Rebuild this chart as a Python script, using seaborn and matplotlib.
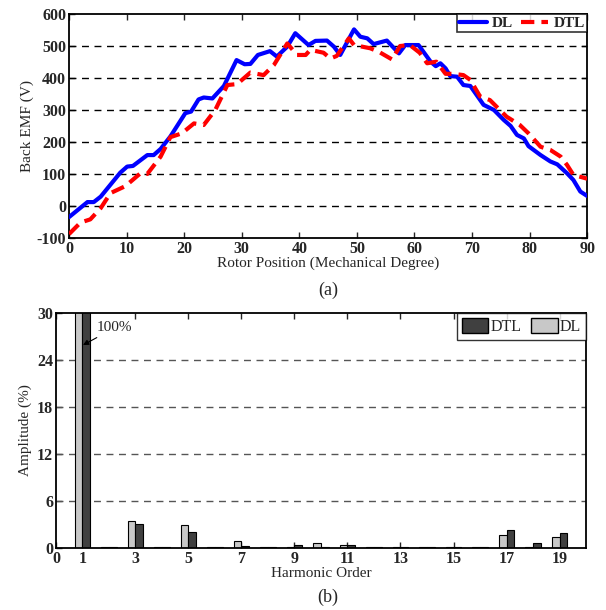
import numpy as np
import pandas as pd
import matplotlib
matplotlib.use("Agg")
import matplotlib.pyplot as plt
import seaborn as sns
from matplotlib.patches import Patch
from matplotlib.lines import Line2D

# ---------------- data ----------------
dl_deg = [0, 3.2, 4.3, 5.5, 8.9, 10.1, 11.1, 13.6, 14.7, 15.9,
          17.6, 20.2, 21.2, 22.5, 23.4, 24.9, 26.9, 29.1, 30.5, 31.5,
          32.8, 34.9, 36.1, 37.9, 39.3, 41.6, 42.8, 44.8, 46.0, 47.1,
          49.5, 50.6, 51.8, 52.9, 55.2, 57.3, 58.4, 60.7, 62.8, 63.7,
          64.5, 65.4, 66.2, 67.4, 68.5, 69.7, 72.0, 73.8, 75.5, 76.7,
          77.8, 79.0, 79.8, 81.9, 83.6, 84.8, 86.5, 87.6, 88.8, 90]
dl_emf = [-35, 12, 12, 29, 104, 123, 125, 159, 159, 178,
          217, 290, 295, 333, 339, 336, 375, 456, 443, 444,
          472, 484, 467, 498, 540, 503, 516, 517, 498, 472,
          552, 529, 524, 506, 517, 477, 503, 503, 451, 437,
          446, 430, 406, 404, 378, 375, 316, 300, 269, 250,
          222, 211, 187, 159, 139, 130, 102, 81, 45, 31]

dtl_deg = [0, 2.0, 3.7, 5.5, 7.2, 9.8, 12.4, 13.6, 15.9, 17.6,
           19.6, 21.7, 23.4, 25.4, 27.5, 29.2, 31.5, 33.8, 35.6, 37.9,
           39.6, 41.1, 41.9, 44.2, 45.4, 46.5, 48.6, 49.5, 52.3, 53.8,
           56.1, 57.5, 59.2, 60.9, 62.2, 63.8, 65.4, 66.8, 68.5, 69.7,
           71.4, 73.1, 76.0, 78.3, 79.8, 81.9, 83.6, 85.4, 86.5, 87.6, 90]
dtl_emf = [-88, -52, -42, -7, 40, 62, 102, 100, 154, 215,
           227, 258, 253, 300, 378, 381, 417, 409, 441, 508,
           472, 472, 488, 479, 461, 469, 524, 503, 493, 482,
           458, 500, 503, 479, 446, 451, 413, 413, 409, 394,
           342, 331, 279, 253, 227, 185, 175, 154, 128, 97, 85]

harmonics = list(range(1, 20))
dl_amp = [100, 0.07, 3.45, 0.07, 3.0, 0.07, 0.9, 0.07, 0.07, 0.6,
          0.4, 0.07, 0.07, 0.07, 0.07, 0.07, 1.66, 0.07, 1.45]
dtl_amp = [100, 0.17, 3.1, 0.15, 2.05, 0.15, 0.3, 0.12, 0.4, 0.15,
           0.35, 0.12, 0.15, 0.12, 0.15, 0.12, 2.3, 0.68, 1.95]

top_xticks = list(range(0, 91, 10))
top_yticks = list(range(-100, 601, 100))
bot_yticks = [0, 6, 12, 18, 24, 30]
bot_xticks = [0, 1, 3, 5, 7, 9, 11, 13, 15, 17, 19]

# ---------------- style ----------------
sns.set_style("ticks")
plt.rcParams["font.family"] = ["Liberation Serif", "DejaVu Serif"]
plt.rcParams["xtick.direction"] = "in"
plt.rcParams["ytick.direction"] = "in"
plt.rcParams["axes.linewidth"] = 1.3
plt.rcParams["axes.unicode_minus"] = False

fig = plt.figure(figsize=(6.06, 6.10), dpi=100)
ax1 = fig.add_axes([0.1139, 0.610, 0.969 - 0.1139, 0.977 - 0.610])
ax2 = fig.add_axes([0.0924, 0.1016, 0.967 - 0.0924, 0.487 - 0.1016])

tick_fs = 11.5
lab_fs = 11

# ---------------- top panel ----------------
for yv in top_yticks[1:-1]:
    ax1.axhline(yv, color="black", lw=1.0, ls=(0, (5, 4)), zorder=1)

sns.lineplot(x=dl_deg, y=dl_emf, ax=ax1, color="#0000ff", lw=3.0,
             sort=False, estimator=None, zorder=3)
sns.lineplot(x=dtl_deg, y=dtl_emf, ax=ax1, color="#ff0000", lw=3.0,
             sort=False, estimator=None, zorder=3)
ax1.lines[-1].set_dashes([3.2, 1.7])

ax1.set_xlim(0, 90)
ax1.set_ylim(-100, 600)
ax1.set_xticks(top_xticks)
ax1.set_yticks(top_yticks)
ax1.tick_params(top=True, right=True, length=4, width=1, labelsize=tick_fs, pad=2)
for lbl in ax1.get_xticklabels() + ax1.get_yticklabels():
    lbl.set_fontweight("bold")
ax1.set_xlabel("Rotor Position (Mechanical Degree)", fontsize=lab_fs, labelpad=0)
ax1.set_ylabel("Back EMF (V)", fontsize=lab_fs, labelpad=2)

h1 = [Line2D([], [], color="#0000ff", lw=3.0),
      Line2D([], [], color="#ff0000", lw=3.0, dashes=[3.2, 1.7])]
leg1 = ax1.legend(h1, ["DL", "DTL"], loc="upper right", ncol=2,
                  prop={"weight": "bold", "size": 11}, frameon=True,
                  fancybox=False, edgecolor="black", borderaxespad=0,
                  handlelength=1.8, columnspacing=0.5, handletextpad=0.35,
                  borderpad=0.15)
leg1.get_frame().set_linewidth(1.2)

fig.text(0.541, 0.524, "(a)", ha="center", va="center", fontsize=13)

# ---------------- bottom panel ----------------
for yv in bot_yticks[1:-1]:
    ax2.axhline(yv, color="#555555", lw=1.0, ls=(0, (5, 4)), zorder=1)

df = pd.DataFrame({
    "harmonic": harmonics * 2,
    "amp": dl_amp + dtl_amp,
    "series": ["DL"] * len(harmonics) + ["DTL"] * len(harmonics),
})
sns.barplot(data=df, x="harmonic", y="amp", hue="series",
            hue_order=["DL", "DTL"], palette={"DL": "#c8c8c8", "DTL": "#404040"},
            native_scale=True, width=0.58, dodge=True, errorbar=None,
            edgecolor="black", linewidth=0.8, ax=ax2, legend=False, zorder=2)

ax2.set_xlim(0, 20)
ax2.set_ylim(0, 30)
ax2.set_xticks(bot_xticks)
ax2.set_xticklabels([str(t) for t in bot_xticks])
ax2.set_yticks(bot_yticks)
ax2.tick_params(top=True, right=False, length=4, width=1, labelsize=tick_fs, pad=2)
for lbl in ax2.get_xticklabels() + ax2.get_yticklabels():
    lbl.set_fontweight("bold")
ax2.set_xlabel("Harmonic Order", fontsize=lab_fs, labelpad=0)
ax2.set_ylabel("Amplitude (%)", fontsize=lab_fs, labelpad=4)

ax2.annotate("100%", xy=(1.02, 25.9), xytext=(1.55, 28.1),
             fontsize=11, va="center", ha="left",
             arrowprops=dict(arrowstyle="-|>", color="black", lw=0.8,
                             mutation_scale=8, shrinkA=0, shrinkB=0))

h2 = [Patch(facecolor="#404040", edgecolor="black"),
      Patch(facecolor="#c8c8c8", edgecolor="black")]
leg2 = ax2.legend(h2, ["DTL", "DL"], loc="upper right", ncol=2,
                  prop={"size": 11.5}, frameon=True, fancybox=False,
                  edgecolor="black", borderaxespad=0, handlelength=1.65,
                  handleheight=1.1, columnspacing=0.6, handletextpad=0.15,
                  borderpad=0.3)
leg2.get_frame().set_linewidth(1.0)

fig.text(0.541, 0.020, "(b)", ha="center", va="center", fontsize=13)

for ax in (ax1, ax2):
    for sp in ax.spines.values():
        sp.set_visible(True)
        sp.set_color("black")

fig.savefig("out.png", dpi=100)
